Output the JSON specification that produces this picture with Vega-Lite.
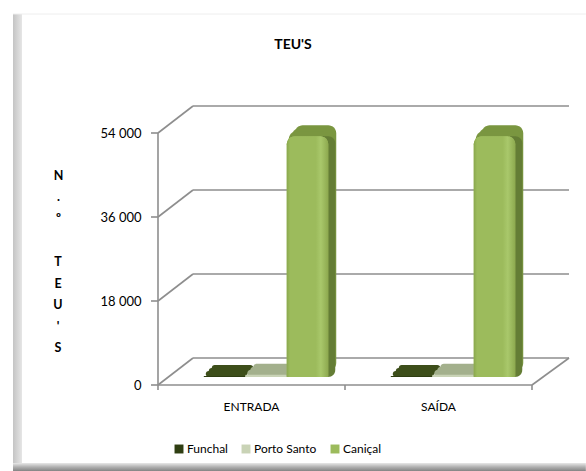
{
"$schema":"https://vega.github.io/schema/vega-lite/v6.json",
"width":374,"height":252,
"autosize":{"type":"none"},
"padding":{"left":158,"top":133,"right":54,"bottom":86},
"background":"white",
"config":{"view":{"stroke":null},"font":"Lato"},
"title":{"text":"TEU'S","font":"Lato","fontSize":14,"fontWeight":"bold","color":"#000000","anchor":"middle","frame":"group","dx":-52,"offset":0,"dy":38},
"datasets":{
"bars":[
{"category":"ENTRADA","series":"Funchal","value":200},
{"category":"ENTRADA","series":"Porto Santo","value":500},
{"category":"ENTRADA","series":"Caniçal","value":51600},
{"category":"SAÍDA","series":"Funchal","value":200},
{"category":"SAÍDA","series":"Porto Santo","value":500},
{"category":"SAÍDA","series":"Caniçal","value":51600}
],
"lines":[
{"x0":0.0936,"x1":1.099,"v0":5786,"v1":5786},
{"x0":0.0936,"x1":1.099,"v0":23786,"v1":23786},
{"x0":0.0936,"x1":1.099,"v0":41786,"v1":41786},
{"x0":0.0936,"x1":1.099,"v0":59786,"v1":59786},
{"x0":0,"x1":0.0936,"v0":0,"v1":5786},
{"x0":0,"x1":0.0936,"v0":18000,"v1":23786},
{"x0":0,"x1":0.0936,"v0":36000,"v1":41786},
{"x0":0,"x1":0.0936,"v0":54000,"v1":59786},
{"x0":1,"x1":1.099,"v0":0,"v1":5786},
{"x0":0,"x1":0,"v0":0,"v1":54000},
{"x0":0,"x1":1,"v0":0,"v1":0},
{"x0":-0.0187,"x1":0,"v0":0,"v1":0},
{"x0":-0.0187,"x1":0,"v0":18000,"v1":18000},
{"x0":-0.0187,"x1":0,"v0":36000,"v1":36000},
{"x0":-0.0187,"x1":0,"v0":54000,"v1":54000},
{"x0":0,"x1":0,"v0":0,"v1":-1071},
{"x0":0.5,"x1":0.5,"v0":0,"v1":-1071},
{"x0":1,"x1":1,"v0":0,"v1":-1071}
],
"letters":[
{"letter":"T","x0":-0.2674,"v0":25393},
{"letter":"E","x0":-0.2674,"v0":20807},
{"letter":"U","x0":-0.2674,"v0":16221},
{"letter":"'","x0":-0.2674,"v0":11636},
{"letter":"S","x0":-0.2674,"v0":7050}
]
},
"resolve":{"scale":{"x":"independent"}},
"layer":[
{"data":{"values":[{"x0":-0.3877,"x1":-0.3636,"v0":79500,"v1":-16714}]},
 "mark":{"type":"rect","fill":{"x1":0,"y1":0,"x2":1,"y2":0,"gradient":"linear","stops":[{"offset":0,"color":"#c4c4c4"},{"offset":1,"color":"#e6e6e6"}]}},
 "encoding":{"x":{"field":"x0","type":"quantitative","scale":{"domain":[0,1]},"axis":null},"x2":{"field":"x1"},"y":{"field":"v0","type":"quantitative","scale":{"domain":[0,54000],"nice":false},"axis":{"values":[0,18000,36000,54000],"labelExpr":"replace(format(datum.value, ','), ',', ' ')","domain":false,"ticks":false,"grid":false,"labelFont":"Lato","labelFontSize":13,"labelColor":"#000000","labelPadding":17,"title":["N",".","º"],"titleFont":"Lato","titleFontSize":12.5,"titleFontWeight":"bold","titleColor":"#000000","titleAngle":0,"titleAlign":"center","titleBaseline":"top","titleLineHeight":21.4,"titleX":-100,"titleY":36}},"y2":{"field":"v1"}}},
{"data":{"values":[{"x0":-0.3877,"x1":1.144,"v0":-16714,"v1":-18429}]},
 "mark":{"type":"rect","fill":{"x1":0,"y1":0,"x2":0,"y2":1,"gradient":"linear","stops":[{"offset":0,"color":"#e8e8e8"},{"offset":0.5,"color":"#b0b0b0"},{"offset":1,"color":"#848484"}]}},
 "encoding":{"x":{"field":"x0","type":"quantitative","scale":{"domain":[0,1]},"axis":null},"x2":{"field":"x1"},"y":{"field":"v0","type":"quantitative"},"y2":{"field":"v1"}}},
{"data":{"values":[{"x0":-0.3877,"x1":1.144,"v0":79500,"v1":79500}]},
 "mark":{"type":"rule","stroke":"#eeeeee","strokeWidth":1},
 "encoding":{"x":{"field":"x0","type":"quantitative","scale":{"domain":[0,1]},"axis":null},"x2":{"field":"x1"},"y":{"field":"v0","type":"quantitative"},"y2":{"field":"v1"}}},
{"data":{"name":"letters"},
 "mark":{"type":"text","font":"Lato","fontSize":12.5,"fontWeight":"bold","color":"#000000","align":"center","baseline":"alphabetic"},
 "encoding":{"x":{"field":"x0","type":"quantitative","scale":{"domain":[0,1]},"axis":null},"y":{"field":"v0","type":"quantitative"},"text":{"field":"letter"}}},
{"data":{"name":"lines"},
 "mark":{"type":"rule","stroke":"#8e8e8e","strokeWidth":1.6},
 "encoding":{"x":{"field":"x0","type":"quantitative","scale":{"domain":[0,1]},"axis":null},"x2":{"field":"x1"},"y":{"field":"v0","type":"quantitative"},"y2":{"field":"v1"}}},
{"data":{"name":"bars"},
 "mark":{"type":"bar","yOffset":-19,"y2Offset":-14,"cornerRadius":8},
 "encoding":{"x":{"field":"category","type":"nominal","sort":["ENTRADA","SAÍDA"],"scale":{"paddingInner":0,"paddingOuter":0,"range":[8,382]},"axis":null},
  "xOffset":{"field":"series","sort":["Funchal","Porto Santo","Caniçal"],"scale":{"domain":["Funchal","Porto Santo","Caniçal"],"paddingInner":0,"paddingOuter":0.753,"align":0.732}},
  "y":{"field":"value","type":"quantitative","stack":null},"y2":{"datum":0},
  "fill":{"field":"series","legend":null,"scale":{"domain":["Caniçal","Funchal","Porto Santo"],"range":["#7a9640","#3d4e1a","#a3b08c"]}}}},
{"data":{"name":"bars"},
 "mark":{"type":"bar","yOffset":-16,"y2Offset":-11,"cornerRadius":8},
 "encoding":{"x":{"field":"category","type":"nominal","sort":["ENTRADA","SAÍDA"],"scale":{"paddingInner":0,"paddingOuter":0,"range":[5,379]},"axis":null},
  "xOffset":{"field":"series","sort":["Funchal","Porto Santo","Caniçal"]},
  "y":{"field":"value","type":"quantitative","stack":null},"y2":{"datum":0},
  "fill":{"field":"series","legend":null}}},
{"data":{"name":"bars"},
 "mark":{"type":"bar","yOffset":-13,"y2Offset":-8,"cornerRadius":8},
 "encoding":{"x":{"field":"category","type":"nominal","sort":["ENTRADA","SAÍDA"],"scale":{"paddingInner":0,"paddingOuter":0,"range":[2,376]},"axis":null},
  "xOffset":{"field":"series","sort":["Funchal","Porto Santo","Caniçal"]},
  "y":{"field":"value","type":"quantitative","stack":null},"y2":{"datum":0},
  "fill":{"field":"series","legend":null}}},
{"data":{"name":"bars"},
 "transform":[{"filter":"datum.series === 'Caniçal'"}],
 "mark":{"type":"bar","yOffset":-8,"y2Offset":-8,"cornerRadiusTopRight":7,"cornerRadiusBottomRight":7,"fill":"#647d35"},
 "encoding":{"x":{"field":"category","type":"nominal","sort":["ENTRADA","SAÍDA"],"scale":{"paddingInner":0,"paddingOuter":0,"range":[7,381]},"axis":null},
  "xOffset":{"field":"series","sort":["Funchal","Porto Santo","Caniçal"]},
  "y":{"field":"value","type":"quantitative","stack":null},"y2":{"datum":0}}},
{"data":{"name":"bars"},
 "mark":{"type":"bar","yOffset":-8,"y2Offset":-8,"cornerRadiusTopLeft":8,"cornerRadiusTopRight":8},
 "encoding":{"x":{"field":"category","type":"nominal","sort":["ENTRADA","SAÍDA"],"scale":{"paddingInner":0,"paddingOuter":0},"axis":{"title":null,"domain":false,"ticks":false,"grid":false,"labelAngle":0,"labelFont":"Lato","labelFontSize":12,"labelColor":"#000000","labelPadding":16}},
  "xOffset":{"field":"series","sort":["Funchal","Porto Santo","Caniçal"]},
  "y":{"field":"value","type":"quantitative","stack":null},"y2":{"datum":0},
  "color":{"field":"series","type":"nominal","sort":["Funchal","Porto Santo","Caniçal"],"scale":{"domain":["Funchal","Porto Santo","Caniçal"],"range":["#2f3e12","#c9d3b6","#9cbb5c"]},"legend":{"title":null,"orient":"none","legendX":15,"legendY":310,"direction":"horizontal","symbolType":"square","symbolSize":80,"labelFont":"Lato","labelFontSize":12,"labelColor":"#000000","labelOffset":2,"columnPadding":12}}}},
{"data":{"name":"bars"},
 "transform":[{"filter":"datum.series === 'Caniçal'"}],
 "mark":{"type":"bar","yOffset":-8,"y2Offset":-8,"cornerRadiusTopLeft":8,"cornerRadiusTopRight":8,"fill":{"x1":0,"y1":0,"x2":1,"y2":0,"gradient":"linear","stops":[{"offset":0,"color":"#8aa84d"},{"offset":0.08,"color":"#9cbb5c"},{"offset":0.7,"color":"#9cbb5c"},{"offset":0.82,"color":"#a9c86b"},{"offset":1,"color":"#8da94f"}]}},
 "encoding":{"x":{"field":"category","type":"nominal","sort":["ENTRADA","SAÍDA"],"scale":{"paddingInner":0,"paddingOuter":0},"axis":null},
  "xOffset":{"field":"series","sort":["Funchal","Porto Santo","Caniçal"]},
  "y":{"field":"value","type":"quantitative","stack":null},"y2":{"datum":0}}}
]
}
